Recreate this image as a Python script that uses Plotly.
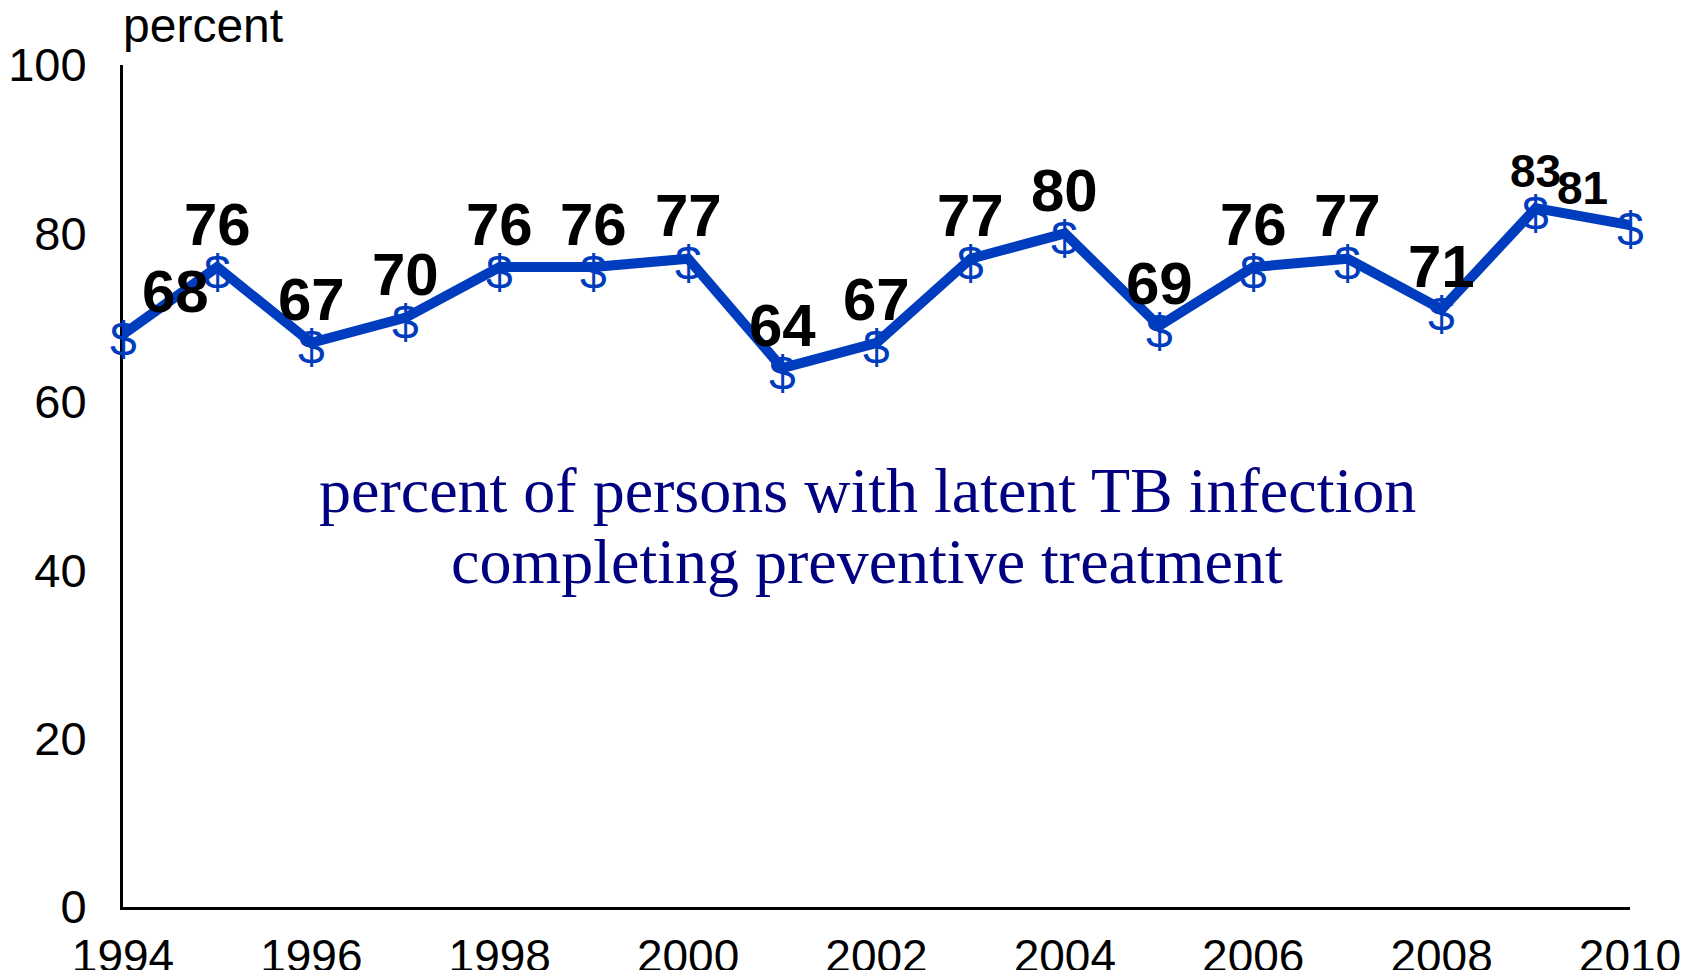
import plotly.graph_objects as go

years = list(range(1994, 2011))
percent = [68, 76, 67, 70, 76, 76, 77, 64, 67, 77, 80, 69, 76, 77, 71, 83, 81]
x_ticks = [1994, 1996, 1998, 2000, 2002, 2004, 2006, 2008, 2010]
y_ticks = [0, 20, 40, 60, 80, 100]
note_lines = ["percent of persons with latent TB infection",
              "completing preventive treatment"]

BLUE = "rgb(0,60,190)"
NAVY = "#000080"
SANS = "Arial, Liberation Sans, sans-serif"
SERIF = "Times New Roman, Liberation Serif, serif"

fig = go.Figure()
fig.add_trace(go.Scatter(x=years, y=percent, mode="lines",
                         line=dict(color=BLUE, width=10), hoverinfo="skip"))

# "$" point markers
for yr, v in zip(years, percent):
    fig.add_annotation(x=yr, y=v, text="$", showarrow=False, yshift=-5,
                       xanchor="center", yanchor="middle",
                       font=dict(family=SANS, size=48, color=BLUE))

# label offsets (pixels)
default_shift = (0, 43)
special = {1994: (52, 43), 2009: (0, 37), 2010: (-48, 37)}
small = {2009, 2010}
for yr, v in zip(years, percent):
    xs, ys = special.get(yr, default_shift)
    fig.add_annotation(x=yr, y=v, text=str(v), showarrow=False, xshift=xs, yshift=ys,
                       xanchor="center", yanchor="middle",
                       font=dict(family=SANS, size=46 if yr in small else 60, color="black",
                                 weight="bold"))

fig.add_annotation(x=2001.9, y=49.5, text=note_lines[0], showarrow=False,
                   font=dict(family=SERIF, size=64, color=NAVY), xanchor="center", yanchor="middle")
fig.add_annotation(x=2001.9, y=41.0, text=note_lines[1], showarrow=False,
                   font=dict(family=SERIF, size=64, color=NAVY), xanchor="center", yanchor="middle")

fig.add_annotation(x=0, y=1, xref="paper", yref="paper", text="percent", showarrow=False,
                   xanchor="left", yanchor="bottom", yshift=11, xshift=-2,
                   font=dict(family=SANS, size=48, color="black"))

fig.update_layout(
    width=1676, height=962, paper_bgcolor="white", plot_bgcolor="white",
    margin=dict(l=115, r=54, t=57, b=63, autoexpand=False), showlegend=False,
    font=dict(family=SANS, size=47, color="black"),
)
fig.update_xaxes(range=[1994, 2010], tickvals=x_ticks, showgrid=False, zeroline=False,
                 showline=True, linecolor="black", linewidth=3, ticks="", automargin=False,
                 ticklabelstandoff=7, tickfont=dict(size=46))
fig.update_yaxes(range=[0, 100], tickvals=y_ticks, showgrid=False, zeroline=False,
                 showline=True, linecolor="black", linewidth=3, ticks="", automargin=False,
                 ticklabelstandoff=24, tickfont=dict(size=47))

fig.write_html("out.html")
